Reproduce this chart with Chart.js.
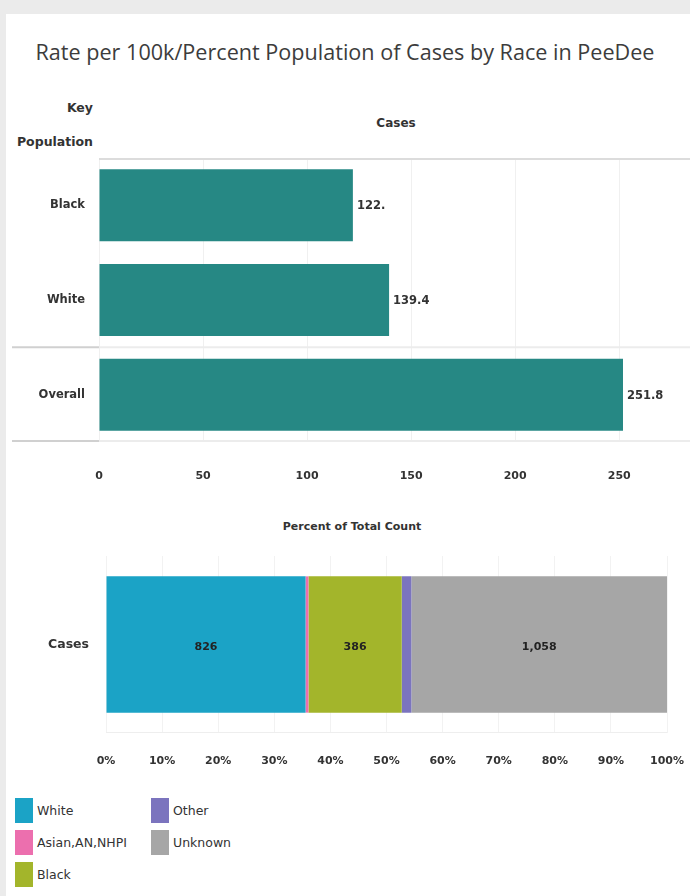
<!DOCTYPE html>
<html><head><meta charset="utf-8">
<script src="https://cdn.jsdelivr.net/npm/chart.js@4.4.0/dist/chart.umd.min.js"></script>
<style>
html,body{margin:0;padding:0;width:690px;height:896px;overflow:hidden;background:#ebebeb;font-family:'DejaVu Sans',sans-serif;}
#panel{position:absolute;left:6px;top:14px;width:684px;height:882px;background:#fff;}
.t{position:absolute;white-space:nowrap;color:#333;}
canvas{position:absolute;left:0;}
#title{left:0;width:690px;top:38px;line-height:28px;text-align:center;font-family:'Open Sans',sans-serif;font-size:21.6px;color:#3c3c3c;}
.hdr{font-weight:bold;font-size:12.5px;line-height:18px;}
.sq{position:absolute;width:18px;height:25px;}
.lg{position:absolute;font-size:12.5px;line-height:16px;color:#333;white-space:nowrap;}
</style></head>
<body>
<div id="panel"></div>
<div class="t" id="title">Rate per 100k/Percent Population of Cases by Race in PeeDee</div>
<div class="t hdr" style="right:597px;top:99px;text-align:right;">Key</div>
<div class="t hdr" style="right:597px;top:133px;text-align:right;">Population</div>
<div class="t hdr" style="left:296px;width:200px;top:114px;text-align:center;font-size:12px;">Cases</div>
<div class="t" style="left:252px;width:200px;top:519px;line-height:16px;text-align:center;font-size:11px;font-weight:bold;">Percent of Total Count</div>
<canvas id="rate" width="690" height="340" style="top:158px"></canvas>
<canvas id="race" width="690" height="234" style="top:556px"></canvas>
<div id="legend"></div>
<script>
// ---- data ----
const rateCategories = ['Black', 'White', 'Overall'];
const rateValues = [122.0, 139.4, 251.8];
const rateTicks = [0, 50, 100, 150, 200, 250];

const raceBarLabel = ['Cases'];
const raceCategories = ['White', 'Asian,AN,NHPI', 'Black', 'Other', 'Unknown'];
const raceCounts = [826, 12, 386, 40, 1058];
const raceColors = ['#1ba3c6', '#ec6fae', '#a3b52b', '#7b74be', '#a6a6a6'];
const percentTicks = [0, 10, 20, 30, 40, 50, 60, 70, 80, 90, 100];

const FAM = "'DejaVu Sans',sans-serif";
const ink = '#333';
const noPad = s => { s.paddingTop = 0; s.paddingBottom = 0; s.paddingLeft = 0; s.paddingRight = 0; };

// ---- top chart ----
const rowLines = {
  id: 'rowLines',
  beforeDatasetsDraw(chart) {
    const {ctx, chartArea: a, scales: {y}} = chart;
    const sep = (y.getPixelForValue(1) + y.getPixelForValue(2)) / 2;
    ctx.save();
    ctx.lineWidth = 2;
    ctx.strokeStyle = '#dcdcdc';
    ctx.beginPath(); ctx.moveTo(a.left, a.top + 1); ctx.lineTo(a.right, a.top + 1); ctx.stroke();
    [sep, a.bottom - 1].forEach(py => {
      ctx.strokeStyle = '#d0d0d0';
      ctx.beginPath(); ctx.moveTo(12, py); ctx.lineTo(a.left, py); ctx.stroke();
      ctx.strokeStyle = '#ececec';
      ctx.beginPath(); ctx.moveTo(a.left, py); ctx.lineTo(a.right, py); ctx.stroke();
    });
    ctx.restore();
  }
};
const fmtRate = v => Number.isInteger(v) ? v + '.' : v.toFixed(1);
const barValues = {
  id: 'barValues',
  afterDatasetsDraw(chart) {
    const {ctx} = chart;
    ctx.save();
    ctx.font = 'bold 11.5px ' + FAM;
    ctx.fillStyle = ink;
    ctx.textBaseline = 'middle';
    chart.getDatasetMeta(0).data.forEach((bar, i) => {
      ctx.fillText(fmtRate(rateValues[i]), bar.x + 4, bar.y + 1);
    });
    ctx.restore();
  }
};

new Chart(document.getElementById('rate'), {
  type: 'bar',
  data: {
    labels: rateCategories,
    datasets: [{data: rateValues, backgroundColor: '#268884', barPercentage: 0.76, categoryPercentage: 1}]
  },
  options: {
    indexAxis: 'y', responsive: false, animation: false,
    layout: {padding: 0},
    plugins: {legend: {display: false}, tooltip: {enabled: false}},
    scales: {
      x: {
        min: 0, max: 284,
        afterBuildTicks: s => { s.ticks = rateTicks.map(v => ({value: v})); },
        border: {display: false},
        grid: {color: '#f0f0f0', drawTicks: false},
        ticks: {padding: 28, font: {family: FAM, size: 11, weight: 'bold'}, color: ink, maxRotation: 0},
        afterFit: s => { noPad(s); s.height = 56; }
      },
      y: {
        grid: {display: false}, border: {display: false},
        ticks: {padding: 6, font: {family: FAM, size: 11.5, weight: 'bold'}, color: ink},
        afterFit: s => { noPad(s); s.width = 99; }
      }
    }
  },
  plugins: [rowLines, barValues]
});

// ---- bottom chart ----
const total = raceCounts.reduce((a, b) => a + b, 0);
const baseLine = {
  id: 'baseLine',
  beforeDatasetsDraw(chart) {
    const {ctx, chartArea: a} = chart;
    ctx.save();
    ctx.strokeStyle = '#eeeeee'; ctx.lineWidth = 1;
    ctx.beginPath(); ctx.moveTo(a.left, a.bottom - 0.5); ctx.lineTo(a.right, a.bottom - 0.5); ctx.stroke();
    ctx.restore();
  }
};
const segValues = {
  id: 'segValues',
  afterDatasetsDraw(chart) {
    const {ctx} = chart;
    ctx.save();
    ctx.font = 'bold 11px ' + FAM;
    ctx.fillStyle = '#222';
    ctx.textAlign = 'center';
    ctx.textBaseline = 'middle';
    chart.data.datasets.forEach((ds, i) => {
      const el = chart.getDatasetMeta(i).data[0];
      if (ds.data[0] < 5) return;
      ctx.fillText(raceCounts[i].toLocaleString('en-US'), (el.x + el.base) / 2, el.y + 3);
    });
    ctx.restore();
  }
};

new Chart(document.getElementById('race'), {
  type: 'bar',
  data: {
    labels: raceBarLabel,
    datasets: raceCategories.map((c, i) => ({
      label: c, data: [raceCounts[i] / total * 100], backgroundColor: raceColors[i],
      barPercentage: 0.77, categoryPercentage: 1
    }))
  },
  options: {
    indexAxis: 'y', responsive: false, animation: false,
    layout: {padding: {right: 23}},
    plugins: {legend: {display: false}, tooltip: {enabled: false}},
    scales: {
      x: {
        stacked: true, min: 0, max: 100,
        afterBuildTicks: s => { s.ticks = percentTicks.map(v => ({value: v})); },
        border: {display: false},
        grid: {color: '#f2f2f2', drawTicks: false},
        ticks: {padding: 22, font: {family: FAM, size: 11, weight: 'bold'}, color: ink, maxRotation: 0, callback: v => v + '%'},
        afterFit: s => { noPad(s); s.height = 57; }
      },
      y: {
        stacked: true,
        grid: {display: false}, border: {display: false},
        ticks: {padding: 9, font: {family: FAM, size: 12.5, weight: 'bold'}, color: ink},
        afterFit: s => { noPad(s); s.width = 106; }
      }
    }
  },
  plugins: [baseLine, segValues]
});

// ---- legend ----
const legend = document.getElementById('legend');
raceCategories.forEach((c, i) => {
  const col = i < 3 ? 0 : 1, row = i < 3 ? i : i - 3;
  const x = col === 0 ? 15 : 151, y = 798 + row * 32;
  const sq = document.createElement('div');
  sq.className = 'sq';
  sq.style.left = x + 'px'; sq.style.top = y + 'px'; sq.style.background = raceColors[i];
  legend.appendChild(sq);
  const tx = document.createElement('div');
  tx.className = 'lg';
  tx.style.left = (x + 22) + 'px'; tx.style.top = (y + 5) + 'px';
  tx.textContent = c;
  legend.appendChild(tx);
});
</script>
</body></html>
